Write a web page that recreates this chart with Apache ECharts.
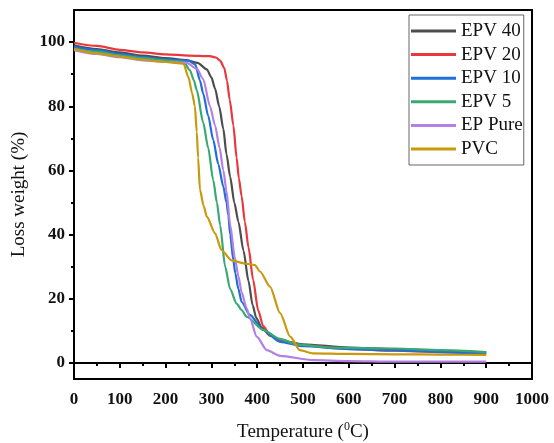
<!DOCTYPE html>
<html>
<head>
<meta charset="utf-8">
<script src="https://cdn.jsdelivr.net/npm/echarts@6/dist/echarts.min.js"></script>
<style>
  html, body { margin: 0; padding: 0; background: #fff; }
  #chart { width: 554px; height: 443px; }
</style>
</head>
<body>
<div id="chart"></div>
<script>
// TGA curves: [temperature (C), weight (%)]
const epv40 = [[0,99],[50,97.8],[100,96.8],[150,95.8],[200,95],[246,94.4],[270,93.5],[290,91.5],[300,89],[308,85.5],[317,80],[326,73],[333,65],[341,58],[350,50],[359,44],[370,35],[381,25.5],[390,18],[398,14],[410,11],[428,8.5],[450,7],[500,5.8],[600,4.8],[700,4.3],[800,3.8],[900,3.3]];
const epv20 = [[0,99.8],[50,98.8],[100,97.6],[150,96.8],[200,96.2],[250,95.8],[297,95.6],[310,95.2],[319,94.2],[328,92],[334,88],[340,82],[348,74],[355,64],[360,57.5],[366,52],[373,44],[381,36],[391,26],[402,16.5],[413,11.5],[428,8.7],[450,7],[500,5.5],[600,4.4],[700,3.8],[800,3.4],[900,3]];
const epv10 = [[0,98.5],[50,97.5],[100,96.3],[150,95.3],[200,94.6],[250,94.2],[265,93],[275,88],[282,84],[293,77],[304,69.5],[315,62],[326,55],[333,50],[337,46],[341,40],[348,32],[352,28],[359,23],[366,19],[384,15],[413,10.3],[450,6.6],[500,5.2],[600,4.3],[700,3.9],[800,3.4],[900,2.9]];
const epv5 = [[0,98],[50,97],[100,95.8],[150,95],[200,94.3],[239,93.9],[253,91.3],[262,88],[268,85],[282,75],[293,67],[304,57],[312,50],[319,43],[330,30],[341,23],[355,18.5],[366,16.5],[377,14.4],[413,10.3],[450,7.5],[486,5.8],[559,4.8],[700,4.5],[800,4],[900,3.4]];
const epPure = [[0,97.5],[50,96.3],[100,95.3],[150,94.3],[200,93.8],[246,93.5],[268,91.7],[282,88.5],[297,80],[308,74],[318,67],[326,60],[333,53.5],[341,43],[351,33],[359,27],[366,22],[377,17],[384,14],[399,8.2],[421,4],[450,2.2],[522,0.9],[600,0.6],[700,0.4],[900,0.4]];
const pvc = [[0,97.8],[50,96.5],[100,95.5],[150,94.5],[200,93.8],[239,93.3],[250,89],[258,84],[264,80],[268,72],[271,64],[275,54],[283,49],[290,45.6],[308,40.4],[322,35.2],[344,32],[373,31],[395,30.5],[406,28.5],[428,23.8],[450,15.5],[472,8.2],[493,4],[522,3],[600,2.8],[700,2.7],[800,2.6],[900,2.5]];

const seriesNames = ['EPV 40', 'EPV 20', 'EPV 10', 'EPV 5', 'EP Pure', 'PVC'];
const seriesData = [epv40, epv20, epv10, epv5, epPure, pvc];
const colors = ['#4d4d4d', '#e8383d', '#1f6fd8', '#3aa872', '#b47fe6', '#c99a0e'];
const yMajor = [0, 20, 40, 60, 80, 100];
const yMinor = [10, 30, 50, 70, 90];

const font = 'Liberation Serif';

const chart = echarts.init(document.getElementById('chart'));

chart.setOption({
  animation: false,
  grid: {
    left: 74, right: 22, top: 10, bottom: 64,
    outerBoundsMode: 'none',
    containLabel: false,
    show: true, borderColor: '#000', borderWidth: 2, backgroundColor: 'transparent'
  },
  legend: {
    orient: 'vertical',
    left: 409, top: 15,
    padding: [6, 1, 6, 2],
    itemGap: 3.6,
    itemWidth: 45, itemHeight: 3,
    itemTextGap: 3,
    icon: 'rect',
    borderColor: '#666', borderWidth: 1,
    backgroundColor: '#fff',
    textStyle: { fontFamily: font, fontSize: 19, color: '#111', lineHeight: 20 },
    data: seriesNames
  },
  xAxis: {
    type: 'value',
    min: 0, max: 1000, interval: 100,
    name: '{a|Temperature (}{s|0}{a|C)}',
    nameLocation: 'middle',
    nameGap: 42,
    nameTextStyle: {
      rich: {
        a: { fontFamily: font, fontSize: 19, color: '#111' },
        s: { fontFamily: font, fontSize: 12, color: '#111', padding: [0, 0, 10, 0] }
      }
    },
    axisLine: { lineStyle: { color: '#000', width: 2 } },
    axisTick: { length: 5, lineStyle: { color: '#000', width: 2 } },
    minorTick: { show: true, splitNumber: 2, length: 3, lineStyle: { color: '#000', width: 2 } },
    axisLabel: {
      fontFamily: font, fontSize: 17, fontWeight: 'bold', color: '#111', margin: 12,
      formatter: v => String(v)
    },
    splitLine: { show: false }
  },
  yAxis: [
    {
      type: 'value',
      min: -5, max: 110,
      name: 'Loss weight (%)',
      nameLocation: 'middle',
      nameGap: 41,
      nameTextStyle: { fontFamily: font, fontSize: 19, color: '#111' },
      axisLine: { show: true, lineStyle: { color: '#000', width: 2 } },
      axisTick: { show: true, length: 5, customValues: yMajor, lineStyle: { color: '#000', width: 2 } },
      axisLabel: { customValues: yMajor, fontFamily: font, fontSize: 17, fontWeight: 'bold', color: '#111', margin: 9 },
      splitLine: { show: false }
    },
    {
      type: 'value',
      min: -5, max: 110,
      position: 'left',
      axisLine: { show: false },
      axisTick: { show: true, length: 3, customValues: yMinor, lineStyle: { color: '#000', width: 2 } },
      axisLabel: { show: false },
      splitLine: { show: false }
    }
  ],
  series: seriesNames.map((name, i) => ({
    name: name,
    type: 'line',
    data: seriesData[i],
    smooth: 0.25,
    smoothMonotone: 'x',
    showSymbol: false,
    color: colors[i],
    lineStyle: { width: 2.2, color: colors[i] }
  }))
});
</script>
</body>
</html>
